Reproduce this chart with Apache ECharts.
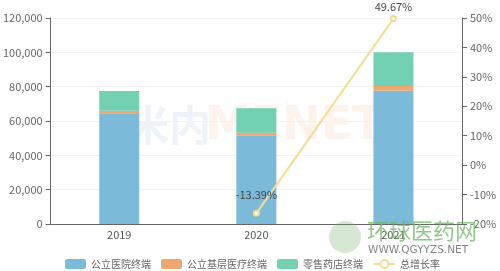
<!DOCTYPE html>
<html><head><meta charset="utf-8">
<script src="https://cdn.jsdelivr.net/npm/echarts@6/dist/echarts.min.js"></script>
<style>html,body{margin:0;padding:0;background:#fff}#c{width:500px;height:271px}</style>
</head><body><div id="c"></div>
<script>
const categories = ['2019', '2020', '2021'];
const hospital = [64500, 51400, 77600];
const grassroots = [1500, 1800, 2800];
const retail = [11500, 14200, 19600];
const growth = [null, -13.39, 49.67];
const leftTicks = [0, 120000, 20000];
const rightTicks = [-20, 50, 10];

const chart = echarts.init(document.getElementById('c'));
const font = '"Noto Sans CJK SC", "Microsoft YaHei", sans-serif';
const axisLbl = {color: '#666', fontSize: 11, fontFamily: font};
const growthData = growth.map((v, i) => i === growth.length - 1
  ? {value: v, label: {distance: 3}} : v);
chart.setOption({
  animation: false,
  grid: {left: 43, right: 38, top: 18, bottom: 47},
  legend: {
    top: 254, left: 60, itemWidth: 21, itemHeight: 10, itemGap: 10,
    textStyle: {color: '#666', fontSize: 10, fontFamily: font},
    data: ['公立医院终端', '公立基层医疗终端', '零售药店终端', '总增长率']
  },
  xAxis: {
    type: 'category', data: categories,
    axisLine: {lineStyle: {color: '#666'}},
    axisTick: {lineStyle: {color: '#666'}},
    axisLabel: {color: '#555', fontSize: 11, fontFamily: font, margin: 5}
  },
  yAxis: [
    {type: 'value', min: leftTicks[0], max: leftTicks[1], interval: leftTicks[2],
     axisLine: {show: true, lineStyle: {color: '#666'}},
     axisTick: {show: true, lineStyle: {color: '#666'}},
     axisLabel: Object.assign({}, axisLbl, {formatter: v => v.toLocaleString('en-US')}),
     splitLine: {lineStyle: {color: '#f2f2f2'}}},
    {type: 'value', min: rightTicks[0], max: rightTicks[1], interval: rightTicks[2],
     axisLine: {show: true, lineStyle: {color: '#666'}},
     axisTick: {show: true, lineStyle: {color: '#666'}},
     axisLabel: Object.assign({}, axisLbl, {formatter: '{value}%'}),
     splitLine: {show: false}},
    {type: 'value', min: -16.85, max: 49.85, show: false, splitLine: {show: false}}
  ],
  series: [
    {name: '公立医院终端', type: 'bar', stack: 't', barWidth: 40, data: hospital,
     itemStyle: {color: '#7bbad9'}},
    {name: '公立基层医疗终端', type: 'bar', stack: 't', barWidth: 40, data: grassroots,
     itemStyle: {color: '#eaa873'}},
    {name: '零售药店终端', type: 'bar', stack: 't', barWidth: 40, data: retail,
     itemStyle: {color: '#72d1b2'}},
    {name: '总增长率', type: 'line', yAxisIndex: 2, data: growthData, z: 5,
     symbol: 'emptyCircle', symbolSize: 5,
     lineStyle: {color: '#f6dc93', width: 2},
     itemStyle: {color: '#f6dc93', borderColor: '#f6dc93'},
     label: {show: true, position: 'top', distance: 10, color: '#444', fontSize: 11,
             fontFamily: font, formatter: p => p.value + '%'}}
  ],
  graphic: [
    {type: 'text', left: 127, top: 104, z: 0, silent: true,
     style: {text: '米内', fill: 'rgba(110,160,200,0.12)', font: 'bold 42px ' + font}},
    {type: 'text', left: 205, top: 104, z: 0, silent: true,
     style: {text: 'MENET', fill: 'rgba(240,140,80,0.11)', font: 'bold 46px "DejaVu Sans", sans-serif'}},
    {type: 'circle', shape: {cx: 345, cy: 237, r: 16}, z: 100, silent: true,
     style: {fill: 'rgba(120,180,110,0.3)'}},
    {type: 'text', left: 367, top: 220, z: 100, silent: true,
     style: {text: '环球医药网', fill: 'rgba(110,180,100,0.75)', font: '22px ' + font}},
    {type: 'text', left: 368, top: 245, z: 100, silent: true,
     style: {text: 'WWW.QGYYZS.NET', fill: 'rgba(90,90,90,0.75)', font: '10.5px "DejaVu Sans", sans-serif'}}
  ]
});
</script></body></html>
